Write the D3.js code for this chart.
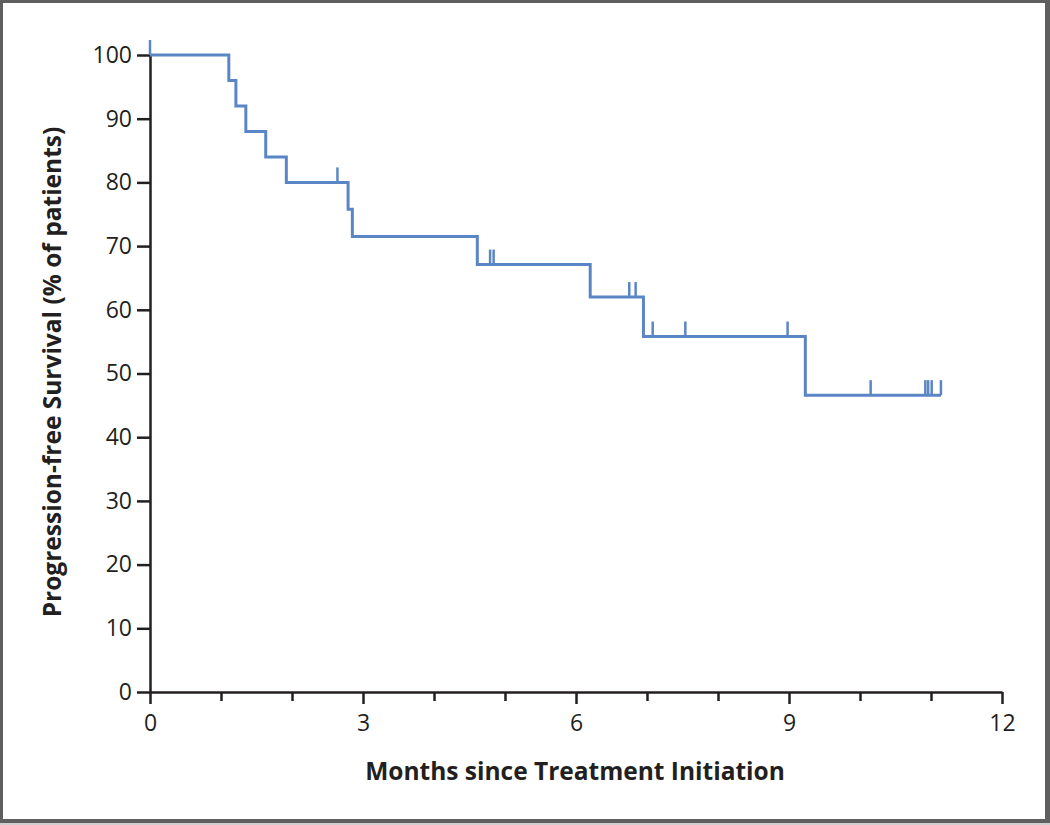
<!DOCTYPE html>
<html><head><meta charset="utf-8">
<script src="https://cdn.jsdelivr.net/npm/d3@7"></script>
<style>html,body{margin:0;padding:0;background:#fff;}svg{display:block;}</style>
</head><body>
<script>
// Kaplan-Meier step data (months, % progression-free)
const stepTimes = [0, 1.11, 1.21, 1.35, 1.63, 1.92, 2.79, 2.85, 4.61, 6.20, 6.95, 9.23];
const stepSurv  = [100, 96, 92, 88, 84, 80, 75.8, 71.5, 67.1, 62.0, 55.8, 46.6];
const endTime = 11.14;
const censorTimes = [0, 2.64, 4.79, 4.84, 6.75, 6.84, 7.08, 7.54, 8.98, 10.15, 10.92, 10.96, 11.01, 11.14];
const xTicks = [0,1,2,3,4,5,6,7,8,9,10,11,12];
const xLabels = [0,3,6,9,12];
const yTicks = [0,10,20,30,40,50,60,70,80,90,100];
const xTitle = "Months since Treatment Initiation";
const yTitle = "Progression-free Survival (% of patients)";

const W = 1050, H = 825;
const svg = d3.select("body").append("svg").attr("width", W).attr("height", H);
svg.append("rect").attr("width", W).attr("height", H).attr("fill", "#5f5f5f");
svg.append("rect").attr("x", 0).attr("y", 823).attr("width", W).attr("height", 2).attr("fill", "#cfcfcf");
svg.append("rect").attr("x", 3).attr("y", 3).attr("width", 1042).attr("height", 816).attr("fill", "#fff");

const x = d3.scaleLinear().domain([0, 12]).range([150, 1002]);
const y = d3.scaleLinear().domain([0, 100]).range([692, 55]);
const font = "'Open Sans', sans-serif";
const axisColor = "#231f20";

// Y axis
const yAxis = svg.append("g").attr("transform", `translate(${x(0)},0)`)
  .call(d3.axisLeft(y).tickValues(yTicks).tickSize(13).tickPadding(5).tickSizeOuter(0));
yAxis.select(".domain").attr("stroke", axisColor).attr("stroke-width", 2.5);
yAxis.selectAll(".tick line").attr("stroke", axisColor).attr("stroke-width", 2.5);
yAxis.selectAll(".tick text").attr("font-family", font).attr("font-size", 23).attr("fill", axisColor);

// X axis
const xAxis = svg.append("g").attr("transform", `translate(0,${y(0)})`)
  .call(d3.axisBottom(x).tickValues(xTicks).tickSize(9).tickPadding(8).tickSizeOuter(0)
    .tickFormat(d => xLabels.includes(d) ? d : ""));
xAxis.select(".domain").attr("stroke", axisColor).attr("stroke-width", 2.5);
xAxis.selectAll(".tick line").attr("stroke", axisColor).attr("stroke-width", 2.5)
  .attr("y2", d => xLabels.includes(d) ? 12 : 9);
xAxis.selectAll(".tick text").attr("font-family", font).attr("font-size", 23).attr("fill", axisColor)
  .attr("y", 23);

// Titles
svg.append("text").attr("x", 575).attr("y", 780).attr("text-anchor", "middle")
  .attr("font-family", font).attr("font-weight", 700).attr("font-size", 24.5).attr("fill", axisColor)
  .text(xTitle);
svg.append("text").attr("transform", `translate(61,${372}) rotate(-90)`).attr("text-anchor", "middle")
  .attr("font-family", font).attr("font-weight", 700).attr("font-size", 24.5).attr("fill", axisColor)
  .text(yTitle);

// KM curve
const pts = stepTimes.map((t, i) => [t, stepSurv[i]]);
pts.push([endTime, stepSurv[stepSurv.length - 1]]);
const line = d3.line().x(d => x(d[0])).y(d => y(d[1])).curve(d3.curveStepAfter);
const blue = "#5b86c5";
svg.append("path").attr("d", line(pts)).attr("fill", "none").attr("stroke", blue).attr("stroke-width", 3);

function survAt(t) {
  let s = stepSurv[0];
  for (let i = 0; i < stepTimes.length; i++) if (stepTimes[i] <= t) s = stepSurv[i];
  return s;
}
svg.append("g").selectAll("line").data(censorTimes).join("line")
  .attr("x1", d => x(d)).attr("x2", d => x(d))
  .attr("y1", d => y(survAt(d))).attr("y2", d => y(survAt(d)) - 15)
  .attr("stroke", blue).attr("stroke-width", 2.5);
</script>
</body></html>
